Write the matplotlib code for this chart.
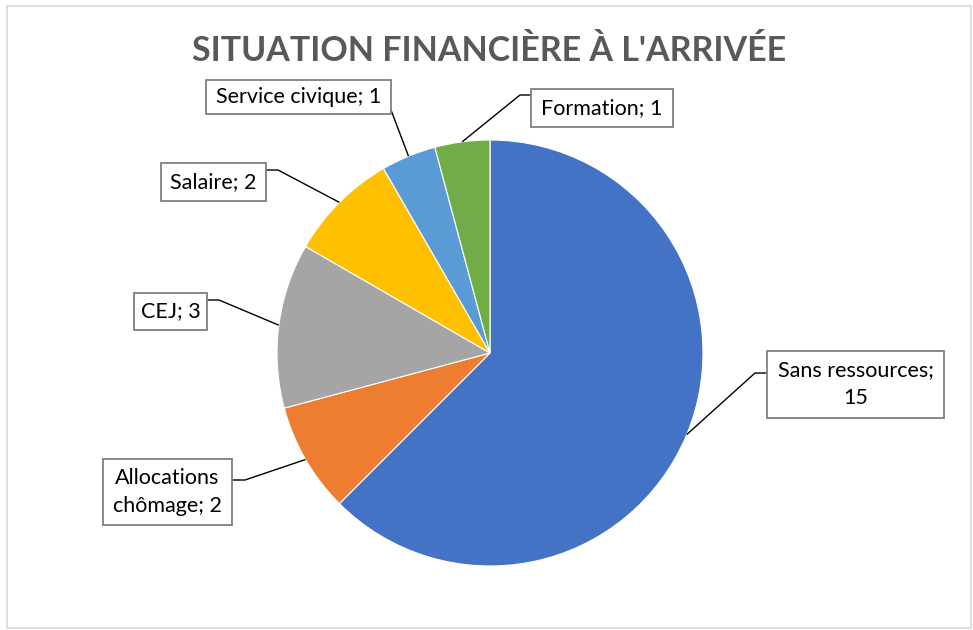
import numpy as np
import matplotlib.pyplot as plt
from matplotlib.patches import Rectangle

# data
labels = ['Sans ressources', 'Allocations chômage', 'CEJ', 'Salaire', 'Service civique', 'Formation']
values = [15, 2, 3, 2, 1, 1]
label_text = ['Sans ressources;\n15', 'Allocations\nchômage; 2', 'CEJ; 3',
              'Salaire; 2', 'Service civique; 1', 'Formation; 1']
colors = ['#4472C4', '#ED7D31', '#A5A5A5', '#FFC000', '#5B9BD5', '#70AD47']

W, H = 973, 630
cx, cy, r = 490, 353, 213  # pie centre / radius in pixels (y from top)

# label boxes in pixels (left, top, right, bottom) and leader points leaving each box
boxes = [(767, 351, 944, 418), (103, 459, 232, 525), (134, 293, 207, 330),
         (161, 163, 266, 201), (206, 80, 391, 114), (531, 89, 673, 127)]
leaders = [[(767, 373), (755, 373)], [(232, 480), (245, 480)], [(207, 300), (219, 300)],
           [(266, 170), (278, 170)], [(391, 110)], [(531, 95), (520, 95)]]


def Y(y):
    return H - y


fig = plt.figure(figsize=(W / 100, H / 100), dpi=100)
ax = fig.add_axes([0, 0, 1, 1])

# chart border
ax.add_patch(Rectangle((7, Y(628)), 964, 622, fill=False, edgecolor='#D9D9D9', lw=1.2))

wedges, _ = ax.pie(values, colors=colors, startangle=90, counterclock=False,
                   center=(cx, Y(cy)), radius=r, frame=True,
                   wedgeprops=dict(edgecolor='white', linewidth=0.8))
ax.set_xlim(0, W)
ax.set_ylim(0, H)
ax.set_aspect('equal')
ax.axis('off')

for w, txt, (x0, y0, x1, y1), pts in zip(wedges, label_text, boxes, leaders):
    mid = np.deg2rad((w.theta1 + w.theta2) / 2)
    ex, ey = cx + r * np.cos(mid), Y(cy) + r * np.sin(mid)
    xs = [p[0] for p in pts] + [ex]
    ys = [Y(p[1]) for p in pts] + [ey]
    ax.plot(xs, ys, color='black', lw=1.0, solid_capstyle='butt')
    ax.add_patch(Rectangle((x0, Y(y1)), x1 - x0, y1 - y0, facecolor='white',
                           edgecolor='#7F7F7F', lw=1.3, zorder=3))
    ax.text((x0 + x1) / 2, Y((y0 + y1) / 2), txt, ha='center', va='center',
            fontsize=15.5, family='Lato', color='black', linespacing=1.5, zorder=4)

ax.text(489, Y(51), "SITUATION FINANCIÈRE À L'ARRIVÉE", ha='center', va='center',
        fontsize=24.5, fontweight='bold', family='Lato', color='#595959')

fig.savefig('out.png', dpi=100)
